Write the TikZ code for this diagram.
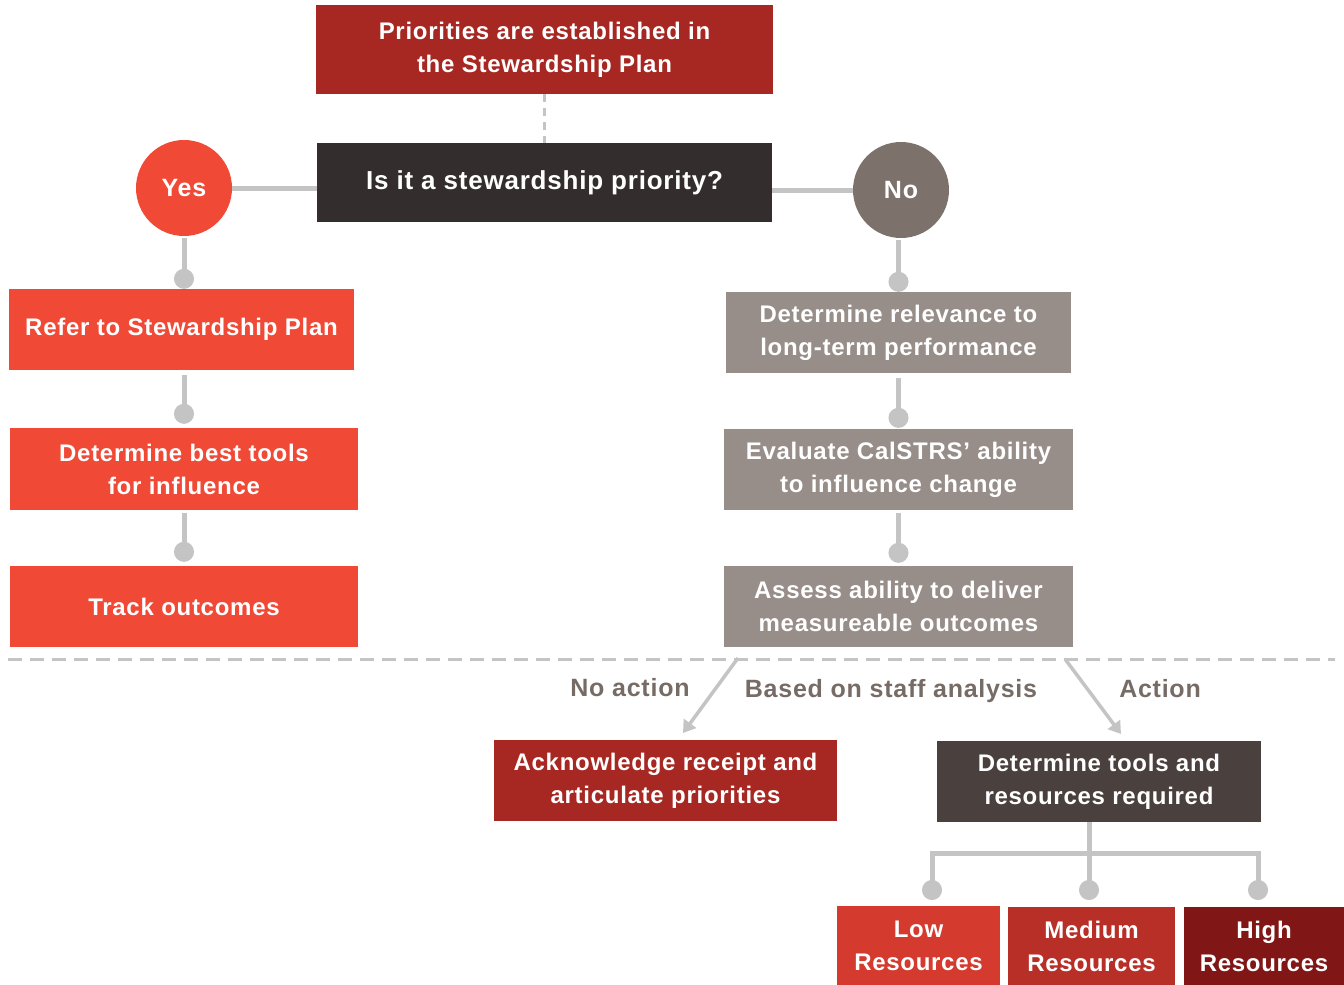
\documentclass[tikz,border=0pt]{standalone}
\usepackage{fontspec}
\setmainfont{Liberation Sans}[LetterSpace=3.0]
\usetikzlibrary{arrows.meta}
\definecolor{darkred}{HTML}{A72822}
\definecolor{brightred}{HTML}{F04A37}
\definecolor{charcoal}{HTML}{332E2D}
\definecolor{taupe}{HTML}{7D716C}
\definecolor{stone}{HTML}{978D89}
\definecolor{slate}{HTML}{4A403E}
\definecolor{lowred}{HTML}{D43A2E}
\definecolor{midred}{HTML}{B82F28}
\definecolor{highred}{HTML}{801716}
\definecolor{linkgray}{HTML}{C4C4C4}
\definecolor{notegray}{HTML}{776B66}

\begin{document}
\begin{tikzpicture}[x=1pt,y=-1pt,
  box/.style={rectangle, text=white, align=center, inner sep=0pt, font=\bfseries\fontsize{24}{33}\selectfont},
  bubble/.style={circle, text=white, minimum size=96pt, inner sep=0pt, font=\bfseries\fontsize{25}{30}\selectfont},
  note/.style={text=notegray, inner sep=0pt, font=\bfseries\fontsize{25}{30}\selectfont},
  link/.style={draw=linkgray, line width=5pt},
  dotlink/.style={link, -{Circle[length=20pt,width=20pt]}},
  arrowlink/.style={draw=linkgray, line width=3.5pt, -{Triangle[length=12pt,width=15pt]}}]
\useasboundingbox (0,0) rectangle (1344,985);
% top of the chart
\node[box, fill=darkred, minimum width=457pt, minimum height=89pt] (prio) at (544.5,49.5) {Priorities are established in\\the Stewardship Plan};
\node[box, fill=charcoal, minimum width=455pt, minimum height=79pt, font=\bfseries\fontsize{26}{30}\selectfont] (quest) at (544.5,182.5) {Is it a stewardship priority?};
\node[bubble, fill=brightred] (yes) at (184,188) {Yes};
\node[bubble, fill=taupe] (no) at (901,190) {No};
\draw[draw=linkgray, line width=2.5pt, dash pattern=on 8pt off 6pt] (prio.south) -- (quest.north);
\draw[link] (yes.east) -- (yes.east -| quest.west);
\draw[link] (no.west -| quest.east) -- (no.west);
% yes column
\node[box, fill=brightred, minimum width=345pt, minimum height=81pt] (refer) at (181.5,329.5) {Refer to Stewardship Plan};
\node[box, fill=brightred, minimum width=348pt, minimum height=82pt] (best) at (184,469) {Determine best tools\\for influence};
\node[box, fill=brightred, minimum width=348pt, minimum height=81pt] (track) at (184,606.5) {Track outcomes};
\draw[dotlink, shorten <=2pt] (yes.south) -- (refer.north -| yes);
\draw[dotlink, shorten <=5pt, shorten >=4pt] (refer.south -| yes) -- (best.north);
\draw[dotlink, shorten <=3pt, shorten >=4pt] (best.south) -- (track.north);
% no column
\node[box, fill=stone, minimum width=345pt, minimum height=81pt] (relev) at (898.5,332.5) {Determine relevance to\\long-term performance};
\node[box, fill=stone, minimum width=349pt, minimum height=81pt] (eval) at (898.5,469.5) {Evaluate CalSTRS’ ability\\to influence change};
\node[box, fill=stone, minimum width=349pt, minimum height=81pt] (assess) at (898.5,606.5) {Assess ability to deliver\\measureable outcomes};
\draw[dotlink, shorten <=2pt] (no.south -| relev) -- (relev.north);
\draw[dotlink, shorten <=5pt, shorten >=1pt] (relev.south) -- (eval.north);
\draw[dotlink, shorten <=3pt, shorten >=3pt] (eval.south) -- (assess.north);
% staff analysis
\draw[draw=linkgray, line width=3pt, dash pattern=on 14pt off 8pt] (8,659) -- (1335,659);
\coordinate (na0) at (738,658);
\coordinate (na1) at (683,733);
\coordinate (ac0) at (1065,659);
\coordinate (ac1) at (1121,734);
\draw[arrowlink] (na0) -- (na1);
\draw[arrowlink] (ac0) -- (ac1);
\node[note] (noact) at (630,688) {No action};
\node[note] (staff) at (891,691) {Based on staff analysis};
\node[note] (act) at (1160,689) {Action};
\node[box, fill=darkred, minimum width=343pt, minimum height=81pt] (ack) at (665.5,780.5) {Acknowledge receipt and\\articulate priorities};
\node[box, fill=slate, minimum width=324pt, minimum height=81pt] (tools) at (1099,781.5) {Determine tools and\\resources required};
% resources
\node[box, fill=lowred, minimum width=163pt, minimum height=79pt] (low) at (918.5,945.5) {Low\\Resources};
\node[box, fill=midred, minimum width=167pt, minimum height=78pt] (med) at (1091.5,946) {Medium\\Resources};
\node[box, fill=highred, minimum width=160pt, minimum height=78pt] (high) at (1264,946) {High\\Resources};
\coordinate (fork) at (1089,853);
\coordinate (lowtip) at (932,900);
\coordinate (medtip) at (1089,900);
\coordinate (hightip) at (1258,900);
\draw[link] (tools.south -| fork) -- (fork);
\draw[dotlink] (fork) -| (lowtip);
\draw[dotlink] (fork) -- (medtip);
\draw[dotlink] (fork) -| (hightip);
\end{tikzpicture}
\end{document}
